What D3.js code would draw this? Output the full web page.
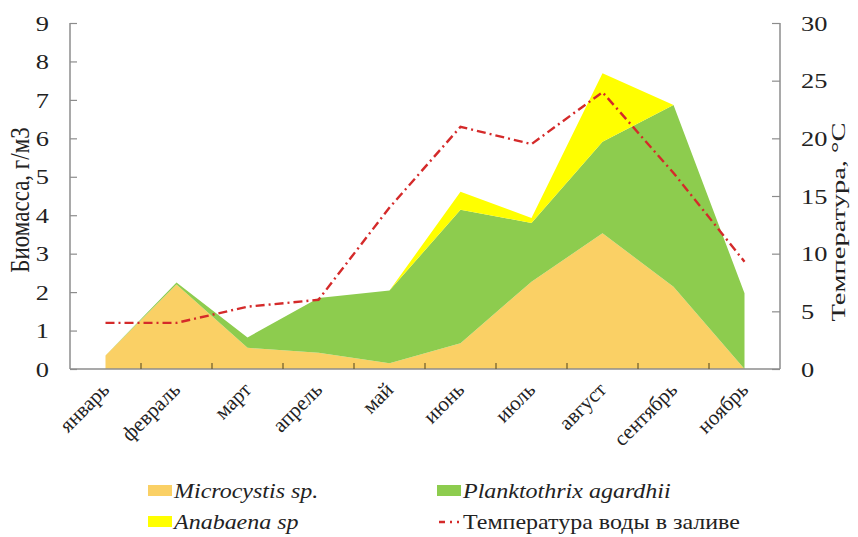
<!DOCTYPE html>
<html>
<head>
<meta charset="utf-8">
<script src="https://cdn.jsdelivr.net/npm/d3@7"></script>
<style>
  body { margin: 0; background: #fff; }
  svg { display: block; font-family: "Liberation Serif", "DejaVu Serif", serif; }
</style>
</head>
<body>
<div id="chart"></div>
<script>
const width = 858;
const height = 537;

// data
const months = ["январь", "февраль", "март", "апрель", "май", "июнь", "июль", "август", "сентябрь", "ноябрь"];
const microcystis = [0.35, 2.2, 0.55, 0.42, 0.15, 0.67, 2.27, 3.53, 2.14, 0];
const planktothrix = [0, 0.05, 0.27, 1.43, 1.89, 3.47, 1.53, 2.38, 4.73, 1.97];
const anabaena = [0, 0, 0, 0, 0, 0.47, 0.13, 1.78, 0, 0];
const temperature = [4, 4, 5.4, 6, 14, 21, 19.5, 24, 17, 9.3];

const bioTicks = [0, 1, 2, 3, 4, 5, 6, 7, 8, 9];
const tempTicks = [0, 5, 10, 15, 20, 25, 30];

const colors = { mic: "#FAD065", pla: "#8DCC4E", ana: "#FFFF00", temp: "#D42A2A" };

const margin = { left: 70, right: 78, top: 23, bottom: 168 };
const plotRight = width - margin.right;
const plotBottom = height - margin.bottom;
const stretch = 1.2; // text in the picture is a bit wider than plain Times

const svg = d3.select("#chart")
    .append("svg")
    .attr("width", width)
    .attr("height", height);

const x = d3.scaleBand()
    .domain(months)
    .range([margin.left, plotRight])
    .padding(0);
const cx = (m) => x(m) + x.bandwidth() / 2;

const y = d3.scaleLinear().domain([0, 9]).range([plotBottom, margin.top]);
const yT = d3.scaleLinear().domain([0, 30]).range([plotBottom, margin.top]);

// stacked areas
const rows = months.map((m, i) => ({ month: m, mic: microcystis[i], pla: planktothrix[i], ana: anabaena[i] }));
const series = d3.stack().keys(["mic", "pla", "ana"])(rows);

const area = d3.area()
    .x((d) => cx(d.data.month))
    .y0((d) => y(d[0]))
    .y1((d) => y(d[1]));

svg.append("g")
    .selectAll("path")
    .data(series)
    .join("path")
    .attr("d", area)
    .attr("fill", (d) => colors[d.key]);

// temperature line
const line = d3.line()
    .x((d, i) => cx(months[i]))
    .y((d) => yT(d));

svg.append("path")
    .datum(temperature)
    .attr("d", line)
    .attr("fill", "none")
    .attr("stroke", colors.temp)
    .attr("stroke-width", 2.4)
    .attr("stroke-dasharray", "9,4,2,4");

// axes
const axisColor = "#8c8c8c";

const leftAxis = svg.append("g")
    .attr("transform", `translate(${margin.left},0)`)
    .call(d3.axisRight(y).tickValues(bioTicks).tickSize(7).tickFormat(""));
leftAxis.select(".domain").attr("stroke", axisColor).attr("stroke-width", 1.5).attr("d", `M0,${margin.top}V${plotBottom}`);
leftAxis.selectAll(".tick line").attr("stroke", axisColor).attr("stroke-width", 1.2);

svg.append("g")
    .selectAll("text")
    .data(bioTicks)
    .join("text")
    .attr("transform", (d) => `translate(49,${y(d)}) scale(${stretch},1)`)
    .attr("dy", "0.35em")
    .attr("text-anchor", "end")
    .attr("font-size", 22)
    .attr("fill", "#222")
    .text((d) => d);

const rightAxis = svg.append("g")
    .attr("transform", `translate(${plotRight},0)`)
    .call(d3.axisLeft(yT).tickValues(tempTicks).tickSize(8).tickFormat(""));
rightAxis.select(".domain").attr("stroke", axisColor).attr("stroke-width", 1.5).attr("d", `M0,${margin.top}V${plotBottom}`);
rightAxis.selectAll(".tick line").attr("stroke", axisColor).attr("stroke-width", 1.2);

svg.append("g")
    .selectAll("text")
    .data(tempTicks)
    .join("text")
    .attr("transform", (d) => `translate(${plotRight + 21},${yT(d)}) scale(${stretch},1)`)
    .attr("dy", "0.35em")
    .attr("text-anchor", "start")
    .attr("font-size", 22)
    .attr("fill", "#222")
    .text((d) => d);

// x axis line with ticks at band edges
svg.append("line")
    .attr("x1", margin.left)
    .attr("x2", plotRight)
    .attr("y1", plotBottom)
    .attr("y2", plotBottom)
    .attr("stroke", axisColor)
    .attr("stroke-width", 1.5);

svg.append("g")
    .selectAll("line")
    .data(months.slice(1))
    .join("line")
    .attr("x1", (d) => x(d))
    .attr("x2", (d) => x(d))
    .attr("y1", plotBottom)
    .attr("y2", plotBottom - 6)
    .attr("stroke", "#6b5a2a")
    .attr("stroke-width", 1.2);

svg.append("g")
    .selectAll("text")
    .data(months)
    .join("text")
    .attr("text-anchor", "end")
    .attr("font-size", 21)
    .attr("fill", "#222")
    .attr("transform", (d) => `translate(${cx(d) + 5},${plotBottom + 22}) rotate(-45)`)
    .text((d) => d);

// axis titles
svg.append("text")
    .attr("transform", `translate(29,${(margin.top + plotBottom) / 2 + 4}) scale(${stretch},1) rotate(-90)`)
    .attr("text-anchor", "middle")
    .attr("font-size", 23)
    .attr("fill", "#222")
    .text("Биомасса, г/м3");

svg.append("text")
    .attr("transform", `translate(845,${(margin.top + plotBottom) / 2 + 26}) rotate(-90) scale(1.5,1)`)
    .attr("text-anchor", "middle")
    .attr("font-size", 19)
    .attr("fill", "#222")
    .text("Температура, °С");

// legend
const legend = [
    { label: "Microcystis sp.", color: colors.mic, italic: true, lx: 148, ly: 491 },
    { label: "Planktothrix agardhii", color: colors.pla, italic: true, lx: 437, ly: 491 },
    { label: "Anabaena sp", color: colors.ana, italic: true, lx: 148, ly: 522 },
    { label: "Температура воды в заливе", color: colors.temp, italic: false, lx: 437, ly: 522, line: true }
];

const lg = svg.append("g")
    .selectAll("g")
    .data(legend)
    .join("g")
    .attr("transform", (d) => `translate(${d.lx},${d.ly})`);

lg.filter((d) => !d.line)
    .append("rect")
    .attr("x", 0)
    .attr("y", -6)
    .attr("width", 24)
    .attr("height", 11)
    .attr("fill", (d) => d.color);

lg.filter((d) => d.line)
    .append("line")
    .attr("x1", 2)
    .attr("x2", 22)
    .attr("y1", 0)
    .attr("y2", 0)
    .attr("stroke", (d) => d.color)
    .attr("stroke-width", 2.4)
    .attr("stroke-dasharray", "6,5,2,5");

lg.append("text")
    .attr("transform", `translate(26,0) scale(${stretch},1)`)
    .attr("dy", "0.35em")
    .attr("font-size", 20)
    .attr("font-style", (d) => d.italic ? "italic" : "normal")
    .attr("fill", "#222")
    .text((d) => d.label);
</script>
</body>
</html>
